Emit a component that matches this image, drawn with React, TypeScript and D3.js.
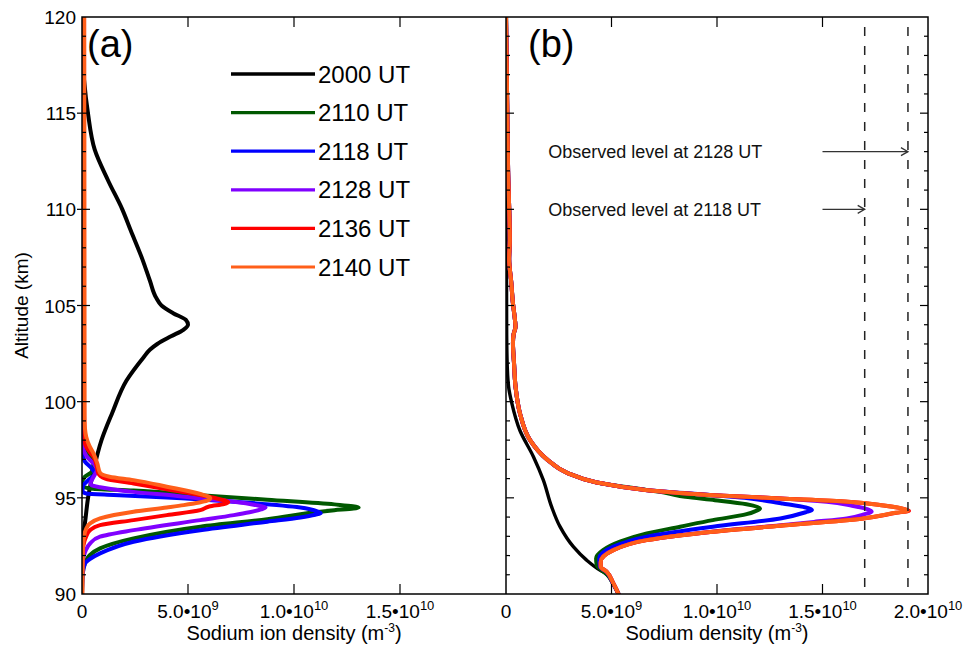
import React from "react";
import * as d3 from "d3";

const FONT = '"Liberation Sans", Arial, Helvetica, sans-serif';

// series labels and colours (same order in both panels)
const seriesNames = ["2000 UT", "2110 UT", "2118 UT", "2128 UT", "2136 UT", "2140 UT"];
const seriesColors = ["#000000", "#005800", "#0000ff", "#8000ff", "#ff0000", "#ff5f1a"];

const densityTicks = [0, 5, 10, 15, 20]; // x 1e9 m^-3
const altitudeMajor = [90, 95, 100, 105, 110, 115, 120];

// (a) sodium ion density, [altitude km, density 1e9 m^-3]
const ion2000: [number, number][] = [
  [120, 0], [118.5, 0], [117.8, 0.03], [116.7, 0.1], [115, 0.28], [113.1, 0.6], [111.5, 1.23],
  [110, 1.9], [108.9, 2.3], [107.4, 2.85], [106.3, 3.2], [105.4, 3.5], [105.0, 3.75], [104.6, 4.3],
  [104.25, 4.9], [104.0, 5.0], [103.75, 4.8], [103.4, 4.2], [103.0, 3.55], [102.7, 3.2], [102.3, 2.9],
  [101.1, 2.1], [99.4, 1.42], [98.0, 0.92], [96.3, 0.52], [95.1, 0.3], [93.7, 0.14], [93.0, 0.05],
  [92.3, 0], [90, 0],
];
const ion2110: [number, number][] = [
  [120, 0.02], [100, 0.03], [98, 0.06], [97.48, 0.14], [97.1, 0.4], [96.88, 0.54], [96.6, 0.52],
  [96.36, 0.46], [96.1, 0.14], [95.84, 0.02], [95.6, 0.05], [95.49, 0.38], [95.38, 2.43], [95.14, 5.58],
  [94.9, 8.74], [94.66, 11.9], [94.5, 13.05], [94.44, 12.8], [94.36, 11.9], [93.89, 8.74], [93.5, 5.58],
  [92.89, 2.43], [92.37, 0.85], [92.0, 0.35], [91.6, 0.14], [91.0, 0.03], [90, 0],
];
const ion2118: [number, number][] = [
  [120, 0.02], [100, 0.02], [97.5, 0.04], [97.14, 0.06], [96.88, 0.14], [96.53, 0.46], [96.27, 0.6],
  [95.92, 0.3], [95.58, 0.03], [95.3, 0.03], [95.23, 0.2], [95.15, 1.5], [95.02, 4.0], [94.8, 7.16],
  [94.5, 10.3], [94.3, 11.1], [94.2, 11.26], [94.12, 11.0], [93.98, 10.3], [93.76, 8.74], [93.32, 5.58],
  [92.72, 2.43], [92.11, 0.85], [91.8, 0.35], [91.59, 0.14], [91.0, 0.03], [90, 0],
];
const ion2128: [number, number][] = [
  [120, 0.03], [98, 0.05], [97.57, 0.06], [97.2, 0.2], [96.96, 0.38], [96.7, 0.6], [96.44, 0.7],
  [96.2, 0.6], [95.92, 0.46], [95.75, 0.4], [95.66, 0.45], [95.55, 0.85], [95.31, 2.43], [95.1, 4.5],
  [94.97, 5.58], [94.8, 7.16], [94.6, 8.3], [94.5, 8.66], [94.4, 8.45], [94.25, 7.9], [94.1, 7.16],
  [93.84, 5.58], [93.32, 2.43], [92.98, 0.85], [92.63, 0.38], [92.2, 0.15], [91.6, 0.03], [90, 0],
];
const ion2136: [number, number][] = [
  [120, 0.1], [100, 0.1], [98.5, 0.12], [97.83, 0.14], [97.4, 0.35], [97.14, 0.54], [96.62, 0.7],
  [96.27, 0.77], [96.0, 1.1], [95.75, 2.43], [95.44, 4.0], [95.14, 5.58], [94.95, 6.4], [94.77, 6.9],
  [94.68, 6.7], [94.55, 6.0], [94.36, 5.58], [94.1, 4.0], [93.84, 2.43], [93.58, 0.85], [93.32, 0.38],
  [93.0, 0.2], [92.5, 0.06], [92.0, 0.02], [90, 0],
];
const ion2140: [number, number][] = [
  [120, 0.1], [100, 0.12], [99, 0.12], [98.6, 0.14], [98.17, 0.2], [97.7, 0.35], [97.31, 0.54],
  [96.79, 0.72], [96.3, 0.85], [96.1, 1.3], [95.92, 2.43], [95.58, 4.0], [95.2, 5.58], [94.98, 6.05],
  [94.85, 5.9], [94.62, 4.8], [94.5, 4.0], [94.28, 2.43], [93.93, 0.85], [93.67, 0.38], [93.4, 0.2],
  [93.0, 0.1], [92.5, 0.05], [90, 0.02],
];

// (b) sodium density
const na2000: [number, number][] = [
  [120, 0.02], [110, 0.02], [104, 0.03], [102.2, 0.05], [100.8, 0.12], [99.9, 0.28], [98.5, 0.66],
  [97.14, 1.3], [95.92, 1.77], [94.54, 2.16], [93.5, 2.56], [92.46, 3.19], [91.76, 3.82], [91.24, 4.45],
  [91.05, 4.75], [90.55, 5.05], [90.03, 5.3], [89.5, 5.5],
];
// upper part shared by the modelled profiles
const naUpper: [number, number][] = [
  [120, 0.0], [116, 0.05], [112, 0.1], [108.4, 0.18], [107.4, 0.15], [106.2, 0.25], [105.1, 0.33],
  [104.3, 0.42], [103.9, 0.45], [103.5, 0.36], [103.05, 0.33], [102, 0.38], [100.8, 0.45], [99.4, 0.66],
  [98.0, 1.14], [97.0, 1.94], [96.3, 2.9], [95.8, 4.3], [95.4, 6.7],
];
const na2110: [number, number][] = [
  [95.25, 7.6], [95.05, 8.5], [94.88, 9.9], [94.67, 11.4], [94.45, 12.04], [94.3, 11.8], [94.15, 11.4],
  [93.84, 9.8], [93.5, 8.25], [93.15, 6.67], [92.72, 5.4], [92.28, 4.6], [91.85, 4.27], [91.5, 4.3],
  [91.24, 4.54], [91.0, 4.8], [90.55, 5.07], [90.03, 5.32], [89.5, 5.5],
];
const na2118: [number, number][] = [
  [95.14, 9.8], [95.0, 11.3], [94.85, 12.3], [94.71, 13.1], [94.5, 14.2], [94.37, 14.5], [94.25, 14.2],
  [93.93, 13.0], [93.5, 9.8], [92.98, 6.67], [92.46, 5.09], [91.85, 4.42], [91.42, 4.45], [91.16, 4.75],
  [90.55, 5.07], [90.03, 5.32], [89.5, 5.5],
];
const na2128: [number, number][] = [
  [95.14, 9.8], [94.97, 13.0], [94.8, 15.2], [94.59, 16.4], [94.4, 17.15], [94.28, 17.33], [94.15, 17.0],
  [93.93, 16.15], [93.75, 14.6], [93.55, 12.8], [93.24, 9.75], [92.8, 6.62], [92.28, 5.07], [91.67, 4.48],
  [91.42, 4.48], [91.16, 4.77], [90.55, 5.09], [90.03, 5.32], [89.5, 5.5],
];
const na2136: [number, number][] = [
  [95.14, 9.8], [94.97, 13.0], [94.8, 16.2], [94.6, 17.9], [94.45, 18.75], [94.33, 19.1], [94.22, 18.5],
  [93.93, 16.93], [93.55, 13.0], [93.24, 9.82], [92.8, 6.67], [92.28, 5.09], [91.67, 4.49], [91.42, 4.49],
  [91.16, 4.77], [90.55, 5.09], [90.03, 5.32], [89.5, 5.5],
];
const na2140: [number, number][] = [
  [95.14, 9.8], [94.97, 13.0], [94.8, 16.2], [94.6, 17.9], [94.45, 18.75], [94.33, 19.04], [94.22, 18.45],
  [93.93, 16.93], [93.55, 13.0], [93.24, 9.82], [92.8, 6.67], [92.28, 5.09], [91.67, 4.49], [91.42, 4.49],
  [91.16, 4.77], [90.55, 5.09], [90.03, 5.32], [89.5, 5.5],
];

const ionSeries = [ion2000, ion2110, ion2118, ion2128, ion2136, ion2140];
const naSeries = [na2000, [...naUpper, ...na2110], [...naUpper, ...na2118], [...naUpper, ...na2128],
  [...naUpper, ...na2136], [...naUpper, ...na2140]];

// observed levels in panel (b)
const obsLabels = ["Observed level at 2128 UT", "Observed level at 2118 UT"];
const obsValues = [19.05, 17.0];
const obsAltitudes = [113, 110];
const arrowFrom = 15.0;
const labelAt = 2.0;

const W = 966;
const H = 646;
const top = 17;
const bottom = 594;

function TickLabel({ x, y, v }: { x: number; y: number; v: number }) {
  if (v === 0) {
    return <text x={x} y={y} textAnchor="middle" fontSize={19}>0</text>;
  }
  const exp = Math.floor(Math.log10(v * 1e9));
  const mant = (v * 1e9 / Math.pow(10, exp)).toFixed(1);
  return (
    <text x={x} y={y} textAnchor="middle" fontSize={19}>
      <tspan>{mant}•10</tspan>
      <tspan dy={-8} fontSize={13}>{exp}</tspan>
    </text>
  );
}

export default function App() {
  const y = d3.scaleLinear().domain([90, 120]).range([bottom, top]);
  const xA = d3.scaleLinear().domain([0, 20]).range([82, 506]);
  const xB = d3.scaleLinear().domain([0, 20]).range([506, 928]);
  const minor = d3.range(91, 120);

  const lineFor = (x: d3.ScaleLinear<number, number>) =>
    d3.line<[number, number]>().x((d) => x(d[1])).y((d) => y(d[0])).curve(d3.curveMonotoneY);
  const lineA = lineFor(xA);
  const lineB = lineFor(xB);

  const legendY = d3.scaleLinear().domain([0, 5]).range([74, 267]);

  return (
    <svg width={W} height={H} style={{ position: "absolute", left: 0, top: 0, background: "#fff" }}
      fontFamily={FONT}>
      <defs>
        <clipPath id="clipA"><rect x={82} y={top} width={424} height={bottom - top} /></clipPath>
        <clipPath id="clipB"><rect x={506} y={top} width={422} height={bottom - top} /></clipPath>
      </defs>

      {/* curves */}
      <g clipPath="url(#clipA)">
        {ionSeries.map((s, i) => (
          <path key={i} d={lineA(s) || ""} fill="none" stroke={seriesColors[i]} strokeWidth={4}
            strokeLinejoin="round" />
        ))}
      </g>
      <g clipPath="url(#clipB)">
        {naSeries.map((s, i) => (
          <path key={i} d={lineB(s as [number, number][]) || ""} fill="none" stroke={seriesColors[i]}
            strokeWidth={i === 0 ? 3.4 : 4} strokeLinejoin="round" />
        ))}
      </g>

      {/* observed levels */}
      {obsValues.map((v, i) => (
        <g key={i}>
          <line x1={xB(v)} x2={xB(v)} y1={top} y2={bottom} stroke="#222" strokeWidth={1.5}
            strokeDasharray="9 10" strokeDashoffset={9} />
          <line x1={xB(arrowFrom)} x2={xB(v)} y1={y(obsAltitudes[i])} y2={y(obsAltitudes[i])}
            stroke="#333" strokeWidth={1.3} />
          <path d={`M${xB(v) - 7},${y(obsAltitudes[i]) - 4}L${xB(v)},${y(obsAltitudes[i])}L${xB(v) - 7},${y(obsAltitudes[i]) + 4}`}
            fill="none" stroke="#333" strokeWidth={1.3} />
          <text x={xB(labelAt)} y={y(obsAltitudes[i]) + 6.5} fontSize={18} fill="#111">{obsLabels[i]}</text>
        </g>
      ))}

      {/* frame */}
      <rect x={82} y={top} width={928 - 82} height={bottom - top} fill="none" stroke="#000" strokeWidth={1.5} />
      <line x1={506} x2={506} y1={top} y2={bottom} stroke="#000" strokeWidth={1.5} />

      {/* y ticks */}
      {minor.map((a) => {
        const major = a % 5 === 0;
        const len = major ? 8 : 4;
        return (
          <g key={a} stroke="#000" strokeWidth={1.2}>
            <line x1={major ? 77 : 82} x2={82 + len} y1={y(a)} y2={y(a)} />
            <line x1={506} x2={506 + len} y1={y(a)} y2={y(a)} />
            <line x1={928 - len} x2={928} y1={y(a)} y2={y(a)} />
          </g>
        );
      })}
      {altitudeMajor.map((a) => (
        <text key={a} x={76} y={y(a) + 7} textAnchor="end" fontSize={19}>{a}</text>
      ))}

      {/* x ticks */}
      {[xA, xB].map((x, p) => (
        <g key={p}>
          {densityTicks.filter((v) => v > 0 && v < 20).map((v) => (
            <g key={v} stroke="#000" strokeWidth={1.2}>
              <line x1={x(v)} x2={x(v)} y1={bottom} y2={bottom - 10} />
              <line x1={x(v)} x2={x(v)} y1={top} y2={top + 10} />
            </g>
          ))}
          {densityTicks.filter((v) => p === 1 || v < 20).map((v) => (
            <TickLabel key={v} x={x(v)} y={618} v={v} />
          ))}
        </g>
      ))}

      {/* axis titles */}
      <text x={(82 + 506) / 2} y={640} textAnchor="middle" fontSize={20}>
        <tspan>Sodium ion density (m</tspan>
        <tspan dy={-8} fontSize={12}>-3</tspan>
        <tspan dy={8}>)</tspan>
      </text>
      <text x={(506 + 928) / 2} y={640} textAnchor="middle" fontSize={20}>
        <tspan>Sodium density (m</tspan>
        <tspan dy={-8} fontSize={12}>-3</tspan>
        <tspan dy={8}>)</tspan>
      </text>
      <text transform={`translate(28,${(top + bottom) / 2}) rotate(-90)`} textAnchor="middle" fontSize={19}>
        Altitude (km)
      </text>

      {/* panel labels */}
      <text x={87} y={57} fontSize={38}>(a)</text>
      <text x={528} y={57} fontSize={38}>(b)</text>

      {/* legend */}
      {seriesNames.map((n, i) => (
        <g key={n}>
          <line x1={231} x2={315} y1={legendY(i)} y2={legendY(i)} stroke={seriesColors[i]}
            strokeWidth={i === 0 ? 3.6 : 3.2} />
          <text x={318} y={legendY(i) + 8.6} fontSize={24}>{n}</text>
        </g>
      ))}
    </svg>
  );
}
